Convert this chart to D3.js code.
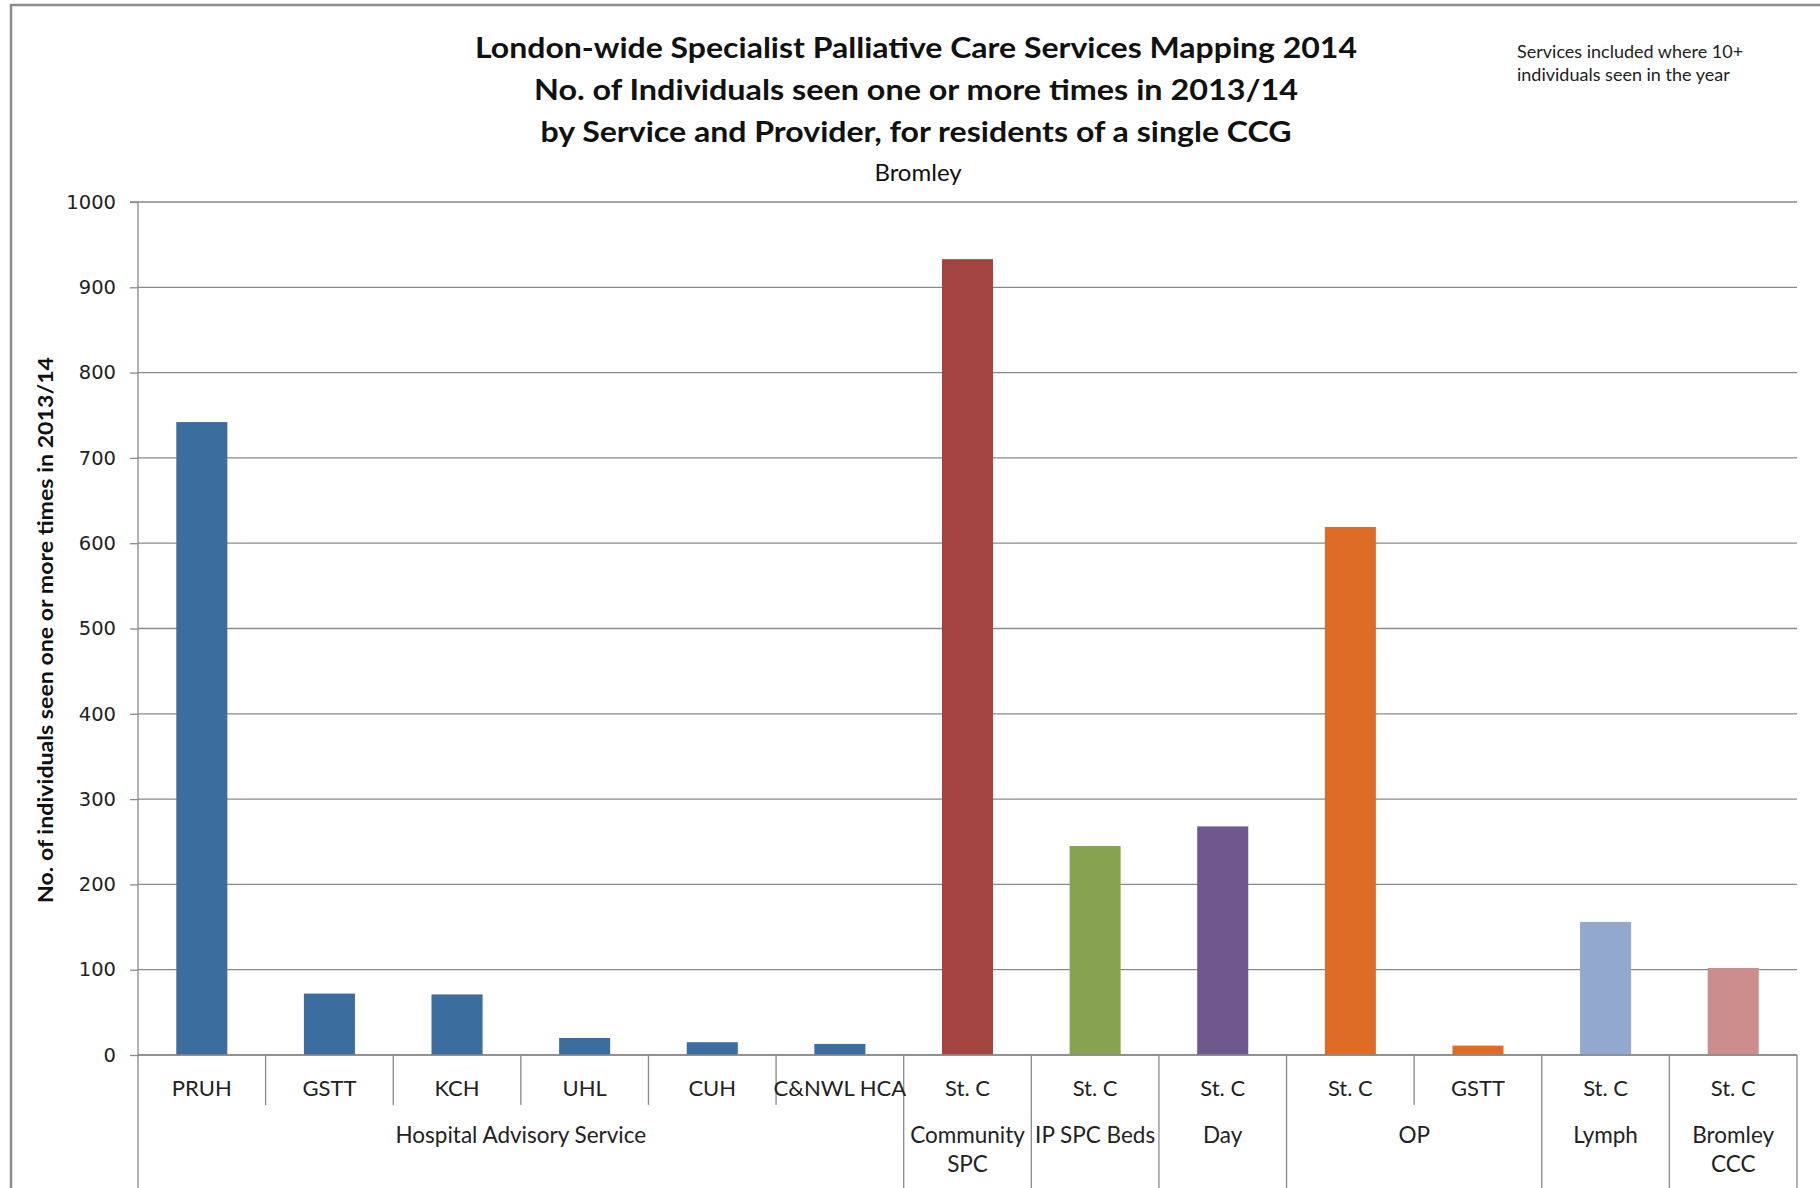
<!DOCTYPE html>
<html><head><meta charset="utf-8">
<script src="https://cdn.jsdelivr.net/npm/d3@7"></script>
<style>html,body{margin:0;padding:0;background:#fff;overflow:hidden}</style>
</head><body>
<svg id="chart" width="1820" height="1188"></svg>
<script>
const providers = ["PRUH","GSTT","KCH","UHL","CUH","C&NWL HCA","St. C","St. C","St. C","St. C","GSTT","St. C","St. C"];
const services = ["Hospital Advisory Service","Hospital Advisory Service","Hospital Advisory Service","Hospital Advisory Service","Hospital Advisory Service","Hospital Advisory Service","Community SPC","IP SPC Beds","Day","OP","OP","Lymph","Bromley CCC"];
const values = [742,72,71,20,15,13,933,245,268,619,11,156,102];
const yTicks = [0,100,200,300,400,500,600,700,800,900,1000];
const serviceNames = ["Hospital Advisory Service","Community SPC","IP SPC Beds","Day","OP","Lymph","Bromley CCC"];
const serviceLabelLines = [["Hospital Advisory Service"],["Community","SPC"],["IP SPC Beds"],["Day"],["OP"],["Lymph"],["Bromley","CCC"]];
const serviceColors = ["#3C6D9F","#A44441","#87A251","#6E588C","#DD6C27","#93A8CD","#CC8E8D"];
const titleLines = ["London-wide Specialist Palliative Care Services Mapping 2014","No. of Individuals seen one or more times in 2013/14","by Service and Provider, for residents of a single CCG"];
const subtitle = "Bromley";
const noteLines = ["Services included where 10+","individuals seen in the year"];
const yLabel = "No. of individuals seen one or more times in 2013/14";

const svg = d3.select("#chart");
const FONT = "Lato, 'Open Sans', sans-serif";
const L = 138, R = 1797, T = 202, B = 1055;

// outer frame
svg.append("rect").attr("x",11).attr("y",5).attr("width",1900).attr("height",1300)
  .attr("fill","none").attr("stroke","#8c8c8c").attr("stroke-width",2.5);

const idx = d3.range(values.length);
const x = d3.scaleBand().domain(idx).range([L,R]).paddingInner(0.6).paddingOuter(0.3);
const xc = d3.scaleBand().domain(idx).range([L,R]).padding(0);
const y = d3.scaleLinear().domain([0,1000]).range([B,T]);

// gridlines
svg.append("g").selectAll("line").data(yTicks).join("line")
  .attr("x1",L).attr("x2",R).attr("y1",d=>y(d)).attr("y2",d=>y(d))
  .attr("stroke","#8a8a8a").attr("stroke-width",1.3);

// y axis
const yAxis = d3.axisLeft(y).tickValues(yTicks).tickSize(8).tickPadding(14).tickFormat(d3.format("d"));
const ga = svg.append("g").attr("transform",`translate(${L},0)`).call(yAxis);
ga.select(".domain").attr("stroke","#8a8a8a").attr("stroke-width",1.3).attr("d",`M-8,${T}H0V${B}`);
ga.selectAll(".tick line").attr("stroke","#8a8a8a").attr("stroke-width",1.3);
ga.selectAll(".tick text").attr("font-family","'DejaVu Sans', Verdana, sans-serif").attr("font-size",19.5).attr("fill","#222");

// bars
svg.append("g").selectAll("rect").data(idx).join("rect")
  .attr("x",i=>x(i)).attr("width",x.bandwidth())
  .attr("y",i=>y(values[i])).attr("height",i=>B-y(values[i]))
  .attr("fill",i=>serviceColors[serviceNames.indexOf(services[i])]);

// category axis separators
const sep = svg.append("g").attr("stroke","#8a8a8a").attr("stroke-width",1.3);
sep.append("line").attr("x1",L).attr("x2",R).attr("y1",B).attr("y2",B);
for (let i = 0; i <= values.length; i++) {
  const xx = i < values.length ? xc(i) : R;
  const groupBoundary = i === 0 || i === values.length || services[i] !== services[i-1];
  sep.append("line").attr("x1",xx).attr("x2",xx).attr("y1",B).attr("y2",groupBoundary ? 1188 : 1105);
}

// provider labels
svg.append("g").selectAll("text").data(idx).join("text")
  .attr("x",i=>xc(i)+xc.bandwidth()/2).attr("y",1096)
  .attr("text-anchor","middle").attr("font-family",FONT).attr("font-size",22).attr("fill","#222")
  .text(i=>providers[i]);

// service labels
serviceNames.forEach((s,k)=>{
  const members = idx.filter(i=>services[i]===s);
  const cx = (xc(members[0]) + xc(members[members.length-1]) + xc.bandwidth())/2;
  const t = svg.append("text").attr("text-anchor","middle").attr("font-family",FONT).attr("font-size",22.5).attr("fill","#222");
  serviceLabelLines[k].forEach((ln,j)=>{
    t.append("tspan").attr("x",cx).attr("y",1143 + j*29).text(ln);
  });
});

// titles
const titleWidths = [882,764,751];
svg.append("g").selectAll("text").data(titleLines).join("text")
  .attr("x",916).attr("y",(d,i)=>58 + i*42).attr("text-anchor","middle")
  .attr("font-family",FONT).attr("font-weight","bold").attr("font-size",29).attr("fill","#111")
  .attr("textLength",(d,i)=>titleWidths[i]).attr("lengthAdjust","spacingAndGlyphs")
  .text(d=>d);
svg.append("text").attr("x",918).attr("y",181).attr("text-anchor","middle")
  .attr("font-family",FONT).attr("font-size",24).attr("fill","#111").text(subtitle);

// note
svg.append("g").selectAll("text").data(noteLines).join("text")
  .attr("x",1517).attr("y",(d,i)=>58 + i*23)
  .attr("font-family",FONT).attr("font-size",18).attr("fill","#222").text(d=>d);

// y label
svg.append("text").attr("transform",`translate(53,630) rotate(-90)`).attr("text-anchor","middle")
  .attr("font-family",FONT).attr("font-weight","bold").attr("font-size",21).attr("fill","#111")
  .attr("textLength",546).attr("lengthAdjust","spacingAndGlyphs").text(yLabel);
</script>
</body></html>
